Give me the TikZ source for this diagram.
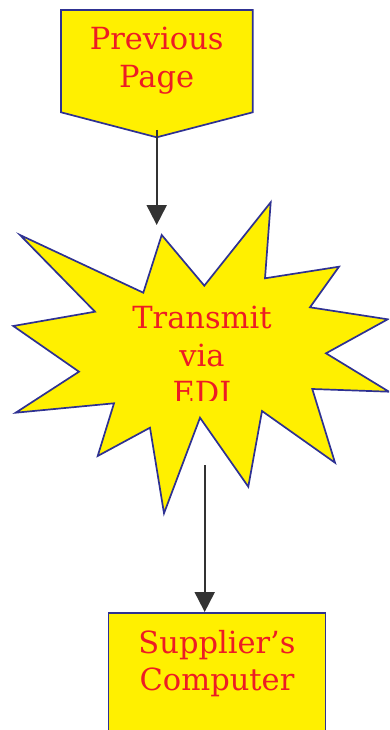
\documentclass[tikz,border=0pt]{standalone}
\usepackage{fontspec}
\setmainfont{DejaVu Serif}
\usetikzlibrary{arrows.meta}
\definecolor{fillyellow}{RGB}{255,240,0}
\definecolor{edgeblue}{RGB}{46,49,146}
\definecolor{textred}{RGB}{237,28,36}
\definecolor{arrowgray}{RGB}{51,51,51}
\tikzset{
  shapebox/.style={fill=fillyellow, draw=edgeblue, line width=1.7pt, line join=miter},
  label text/.style={text=textred, align=center, inner sep=0pt, anchor=base,
    font=\fontsize{30.5}{37.5}\selectfont},
  flow/.style={draw=arrowgray, line width=2pt, -{Triangle[length=20pt,width=20pt]}}
}
\begin{document}
\begin{tikzpicture}[x=1pt,y=-1pt]
\clip (0,0) rectangle (389,730);
% previous page (off-page connector)
\path[shapebox] (61,10) -- (252.7,10) -- (252.7,112.3) -- (156.7,137.3) -- (61,112.3) -- cycle;
\node[label text] (prev) at (156.7,87.5) {Previous\\Page};
% star
\path[shapebox] (161.7,235) -- (204.3,285.7) -- (270.7,202.3) -- (265,278.3)
  -- (339,266.7) -- (310,307.3) -- (387.7,319.3) -- (326,353.3)
  -- (389,391.7) -- (312.3,389) -- (335,462.7) -- (262,411)
  -- (248.3,486.7) -- (200,417.7) -- (164,513.3) -- (150,427.7)
  -- (97.7,456) -- (114,403.3) -- (15.7,412.7) -- (79,371.7)
  -- (13.3,326) -- (95,311.7) -- (20,235) -- (143.3,292.7) -- cycle;
\begin{scope}
\clip (0,0) rectangle (389,400);
\node[label text] (edi) at (202,403.5) {Transmit\\via\\EDI};
\end{scope}
% supplier box
\node[shapebox, rectangle, minimum width=217pt, minimum height=140pt, anchor=north, inner sep=0pt] (supbox) at (217,612) {};
\node[label text] (sup) at (217,690.7) {Supplier’s\\Computer};
% connectors
\coordinate (prevtail) at (156.7,130);
\coordinate (starhead) at (156.7,225);
\coordinate (startail) at (204.7,465);
\draw[flow] (prevtail) -- (starhead);
\draw[flow] (startail) -- (supbox.north -| startail);
\end{tikzpicture}
\end{document}
